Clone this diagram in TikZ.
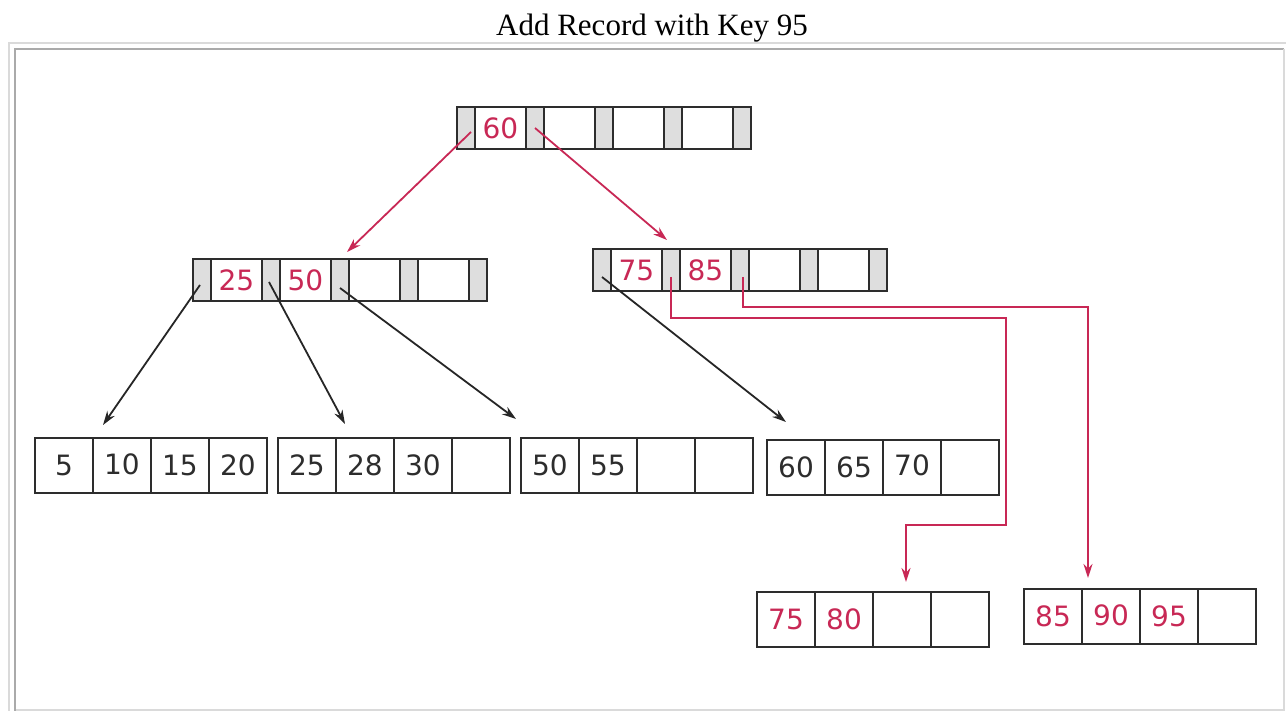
\documentclass[tikz,border=0pt]{standalone}
\usepackage{fontspec}
\setmainfont{Liberation Serif}
\newfontfamily\keyfont{DejaVu Sans}
\usetikzlibrary{calc,arrows.meta}
\definecolor{keyred}{RGB}{200,40,85}
\definecolor{ptrgray}{RGB}{222,222,222}
\definecolor{cellline}{RGB}{45,45,45}
\definecolor{frlight}{RGB}{218,218,218}
\definecolor{frdark}{RGB}{170,170,170}
\tikzset{
  cellbase/.style={draw=cellline, line width=2pt, inner sep=0pt, outer sep=0pt,
    anchor=north west, font=\keyfont\fontsize{28}{28}\selectfont},
  pcell/.style={cellbase, fill=ptrgray, minimum width=18pt, minimum height=42pt},
  kcell/.style={cellbase, minimum width=51pt, minimum height=42pt, text=keyred},
  lcell/.style={cellbase, minimum width=58pt, minimum height=55pt, text=#1},
  redarrow/.style={draw=keyred, line width=1.8pt, -{Stealth[length=14pt,width=9pt]}},
  blkarrow/.style={draw=black!85, line width=1.8pt, -{Stealth[length=14pt,width=9pt]}},
  titletext/.style={font=\fontsize{31}{31}\selectfont}
}
\newcommand{\inode}[7]{%
  \node[pcell] (#1-p0) at (#2,#3) {};
  \node[kcell] (#1-k1) at (#1-p0.north east) {#4};
  \node[pcell] (#1-p1) at (#1-k1.north east) {};
  \node[kcell] (#1-k2) at (#1-p1.north east) {#5};
  \node[pcell] (#1-p2) at (#1-k2.north east) {};
  \node[kcell] (#1-k3) at (#1-p2.north east) {#6};
  \node[pcell] (#1-p3) at (#1-k3.north east) {};
  \node[kcell] (#1-k4) at (#1-p3.north east) {#7};
  \node[pcell] (#1-p4) at (#1-k4.north east) {};
}
\newcommand{\lnode}[8]{%
  \node[lcell=#4] (#1-c1) at (#2,#3) {#5};
  \node[lcell=#4] (#1-c2) at (#1-c1.north east) {#6};
  \node[lcell=#4] (#1-c3) at (#1-c2.north east) {#7};
  \node[lcell=#4] (#1-c4) at (#1-c3.north east) {#8};
}
\begin{document}
\begin{tikzpicture}[x=1pt,y=-1pt]
\useasboundingbox (0,0) rectangle (1286,711);
\fill[white] (0,0) rectangle (1286,711);
% frame
\draw[frlight, line width=2pt] (9,711) -- (9,43) -- (1286,43);
\draw[frdark, line width=2pt] (15,711) -- (15,49) -- (1284,49);
\draw[frlight, line width=2pt] (1284,49) -- (1284,711);
\draw[frlight, line width=2pt] (16,710) -- (1284,710);
% title
\node[titletext] (title) at (652,28) {Add Record with Key 95};
% internal nodes
\inode{r}{457}{107}{60}{}{}{}
\inode{l}{193}{259}{25}{50}{}{}
\inode{q}{593}{249}{75}{85}{}{}
% leaves
\lnode{a}{35}{438}{cellline}{5}{\raisebox{3pt}{10}}{15}{20}
\lnode{b}{278}{438}{cellline}{25}{28}{\raisebox{-3pt}{30}}{}
\lnode{c}{521}{438}{cellline}{50}{55}{}{}
\lnode{d}{767}{440}{cellline}{60}{65}{\raisebox{4pt}{70}}{}
\lnode{e}{757}{592}{keyred}{75}{80}{}{}
\lnode{f}{1024}{589}{keyred}{85}{\raisebox{3pt}{90}}{95}{}
% connectors
\draw[redarrow] ($(r-p0.center)+(5,4)$) -- ($(l-p2.north east)+(-2,-7)$);
\draw[redarrow] (r-p1.center) -- ($(q-p1.north)+(-4,-9)$);
\draw[blkarrow] ($(l-p0.center)+(-2,5)$) -- ($(a-c1.north east)+(10,-13)$);
\draw[blkarrow] ($(l-p1.center)+(-2,2)$) -- ($(b-c2.north west)+(9,-14)$);
\draw[blkarrow] ($(l-p2.center)+(0,8)$) -- ($(c-c1.north west)+(-5,-19)$);
\draw[blkarrow] ($(q-p0.center)+(0,7)$) -- ($(d-c1.north west)+(19,-18)$);
\draw[redarrow] ($(q-p1.center)+(0,7)$) -- ++(0,41) -| ++(335,207) -| ($(e-c3.north)+(4,-10)$);
\draw[redarrow] ($(q-p2.center)+(3,7)$) -- ++(0,30) -| ($(f-c2.north west)+(6,-11)$);
\end{tikzpicture}
\end{document}
